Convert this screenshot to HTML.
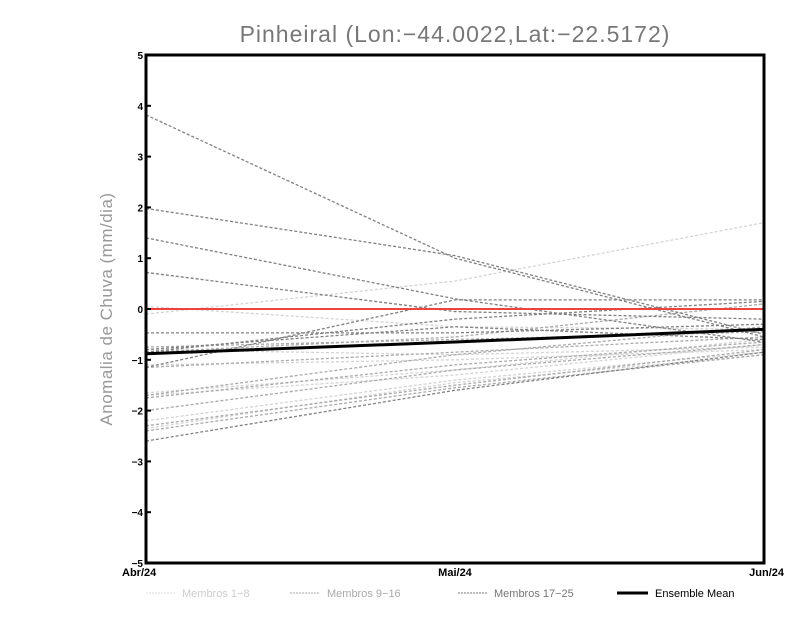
<!DOCTYPE html>
<html><head><meta charset="utf-8"><style>
body{margin:0;background:#fff;}
svg{display:block;font-family:"Liberation Sans",sans-serif;}
</style></head><body>
<svg id="chart" width="800" height="618">
<text x="455" y="42" text-anchor="middle" font-size="23" fill="#777" letter-spacing="1">Pinheiral (Lon:−44.0022,Lat:−22.5172)</text>
<text transform="translate(112,309) rotate(-90)" text-anchor="middle" font-size="17" fill="#999" letter-spacing="0.5">Anomalia de Chuva (mm/dia)</text>
<g id="members"></g>
<line id="zero" stroke="#f04040" stroke-width="2"/>
<polyline id="mean" fill="none" stroke="#000" stroke-width="3"/>
<rect x="146" y="55" width="618" height="508" fill="none" stroke="#000" stroke-width="3"/>
<g id="yticks"></g>
<g id="xticks"></g>
<g font-size="11">
<g><line x1="146" y1="593" x2="176" y2="593" stroke="#ddd" stroke-dasharray="2,1"/><text x="182" y="597" fill="#ccc">Membros 1−8</text></g>
<g><line x1="290" y1="593" x2="320" y2="593" stroke="#aaa" stroke-dasharray="2,1"/><text x="327" y="597" fill="#aaa">Membros 9−16</text></g>
<g><line x1="458" y1="593" x2="488" y2="593" stroke="#777" stroke-dasharray="2,1"/><text x="494" y="597" fill="#777">Membros 17−25</text></g>
<g><line x1="617" y1="593" x2="648" y2="593" stroke="#000" stroke-width="3"/><text x="655" y="597" fill="#000">Ensemble Mean</text></g>
</g>
</svg>
<script>
const months = ["Abr/24","Mai/24","Jun/24"];
const yTicks = [-5,-4,-3,-2,-1,0,1,2,3,4,5];
const membersLight = [[-0.1,0.55,1.7],[0.05,-0.35,-0.4],[-1.65,-1.2,-0.6],[-1.7,-1.3,-0.7],[-2.2,-1.4,-0.85],[-1.1,-1.0,-0.8],[-2.35,-1.45,-0.9],[-0.8,-0.9,-0.75]];
const membersMid = [[-1.75,-1.1,-0.65],[-2.3,-1.5,-0.8],[-0.85,-0.55,0.1],[-1.15,-0.85,-0.55],[-2.0,-1.2,-0.7],[-2.4,-1.55,-0.9],[-0.75,-0.6,-0.45],[-1.7,-0.9,-0.35]];
const membersDark = [[3.82,1.0,-0.55],[1.98,1.05,-0.5],[1.4,0.2,-0.65],[0.72,-0.05,-0.2],[-0.47,-0.47,-0.3],[-1.15,0.18,0.18],[-0.8,-0.35,-0.6],[-2.6,-1.6,-0.85],[-0.85,-0.2,0.15]];
const ensembleMean = [-0.88,-0.65,-0.4];
const NS="http://www.w3.org/2000/svg";
const X0=146,X1=764,Y0=563,Y1=55;
const xs=i=>X0+(X1-X0)*i/(months.length-1);
const ys=v=>Y0-(v+5)/10*(Y0-Y1);
const g=document.getElementById('members');
function draw(arr,color,name){
 arr.forEach((m,k)=>{
  const p=document.createElementNS(NS,'polyline');
  p.setAttribute('points',m.map((v,i)=>xs(i)+','+ys(v)).join(' '));
  p.setAttribute('fill','none');p.setAttribute('stroke',color);p.setAttribute('stroke-width','1.3');p.setAttribute('stroke-dasharray','3,2');
  
  
  g.appendChild(p);
 });
}
draw(membersLight,'#d4d4d4','member-light');
draw(membersMid,'#aaaaaa','member-mid');
draw(membersDark,'#808080','member-dark');
const z=document.getElementById('zero');
z.setAttribute('x1',X0);z.setAttribute('x2',X1);z.setAttribute('y1',ys(0));z.setAttribute('y2',ys(0));
document.getElementById('mean').setAttribute('points',ensembleMean.map((v,i)=>xs(i)+','+ys(v)).join(' '));
const yt=document.getElementById('yticks');
yTicks.forEach(v=>{
 const l=document.createElementNS(NS,'line');
 l.setAttribute('x1',X0);l.setAttribute('x2',X0+5);l.setAttribute('y1',ys(v));l.setAttribute('y2',ys(v));l.setAttribute('stroke','#000');l.setAttribute('stroke-width','2');
 
 
 yt.appendChild(l);
 const t=document.createElementNS(NS,'text');
 t.setAttribute('x',X0-3);t.setAttribute('y',ys(v)+4);t.setAttribute('text-anchor','end');t.setAttribute('font-size','10');t.setAttribute('font-weight','bold');
 t.textContent=v<0?'−'+(-v):String(v);
 
 
 yt.appendChild(t);
});
const xt=document.getElementById('xticks');
months.forEach((m,i)=>{
 const t=document.createElementNS(NS,'text');
 t.setAttribute('x',i===0?X0-24:(i===months.length-1?X1+20:xs(i)));t.setAttribute('y',576);t.setAttribute('text-anchor',i===0?'start':(i===months.length-1?'end':'middle'));
 t.setAttribute('font-size','11');t.setAttribute('font-weight','bold');
 t.textContent=m;
 
 
 xt.appendChild(t);
});
</script>
</body></html>
